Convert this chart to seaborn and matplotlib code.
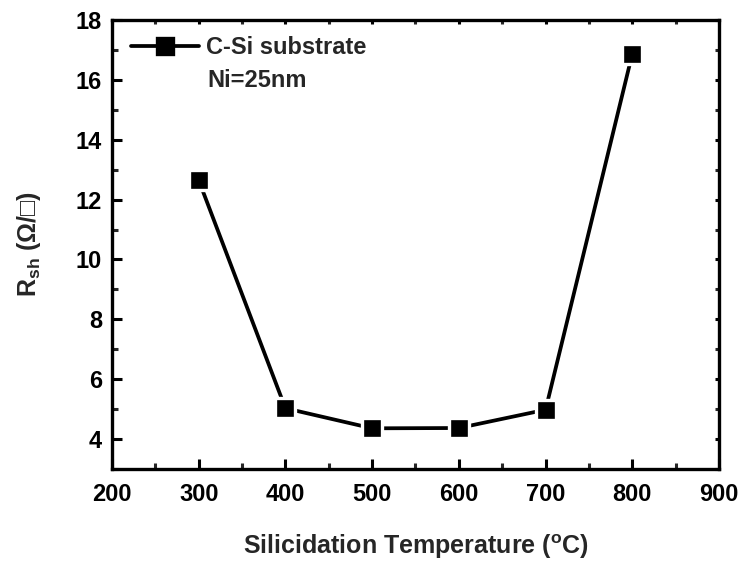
import matplotlib
matplotlib.use("Agg")
import matplotlib.pyplot as plt
import seaborn as sns
import pandas as pd
from matplotlib.ticker import MultipleLocator

temperature = [300, 400, 500, 600, 700, 800]
rsh = [12.65, 5.03, 4.36, 4.37, 4.98, 16.87]
series_label = "C-Si substrate"
note = "Ni=25nm"

sns.set_theme(style="white")
plt.rcParams['font.family'] = ['Liberation Sans', 'DejaVu Sans']
plt.rcParams['font.weight'] = 'bold'
plt.rcParams['mathtext.fontset'] = 'custom'
plt.rcParams['mathtext.rm'] = 'Liberation Sans:bold'
plt.rcParams['mathtext.it'] = 'Liberation Sans:bold'
plt.rcParams['mathtext.bf'] = 'Liberation Sans:bold'

df = pd.DataFrame({"T": temperature, "R": rsh})

fig = plt.figure(figsize=(7.43, 5.64), dpi=100)
ax = fig.add_axes([0.1507, 0.1684, 0.8170, 0.7961])
sns.lineplot(data=df, x="T", y="R", ax=ax, color="black", linewidth=2.7,
             marker="s", markersize=14.5, markeredgecolor="white",
             markeredgewidth=2.4, markerfacecolor="black", label=series_label)

ax.set_xlim(200, 900)
ax.set_ylim(3, 18)
ax.xaxis.set_major_locator(MultipleLocator(100))
ax.xaxis.set_minor_locator(MultipleLocator(50))
ax.yaxis.set_minor_locator(MultipleLocator(1))
ax.set_yticks([4, 6, 8, 10, 12, 14, 16, 18])

for s in ax.spines.values():
    s.set_linewidth(2.4)
    s.set_color("black")

ax.tick_params(which='major', direction='in', length=7, width=2.2, labelsize=17,
               colors='black', bottom=True, left=True, top=True, right=True)
ax.tick_params(axis='x', which='major', pad=10)
ax.tick_params(axis='y', which='major', pad=7)
ax.tick_params(which='minor', direction='in', length=4, width=2.2,
               bottom=True, left=True, top=True, right=True)
for t in ax.xaxis.get_major_ticks() + ax.yaxis.get_major_ticks():
    t.tick2line.set_markersize(3)
for t in ax.xaxis.get_minor_ticks() + ax.yaxis.get_minor_ticks():
    t.tick2line.set_markersize(3)
for lab in ax.get_xticklabels() + ax.get_yticklabels():
    lab.set_fontweight('bold')

ax.set_xlabel("Silicidation Temperature ($^{\\mathregular{o}}$C)", fontsize=18,
              fontweight='bold', labelpad=19)
ax.set_ylabel("R$_{\\mathregular{sh}}$ (\u03a9/\u25a1)", fontsize=18,
              fontweight='bold', labelpad=24)

leg = ax.legend(loc='center left', bbox_to_anchor=(0.031, 0.9377), frameon=False,
                fontsize=17, handlelength=2.9, borderaxespad=0, borderpad=0,
                handletextpad=0.3)
for t in leg.get_texts():
    t.set_fontweight('bold')
for h in leg.legend_handles:
    h.set_markeredgecolor('black')
    h.set_markersize(11)
ax.text(0.1565, 0.866, note, transform=ax.transAxes, fontsize=17,
        fontweight='bold', va='center', ha='left')

fig.savefig("out.png", dpi=100)
